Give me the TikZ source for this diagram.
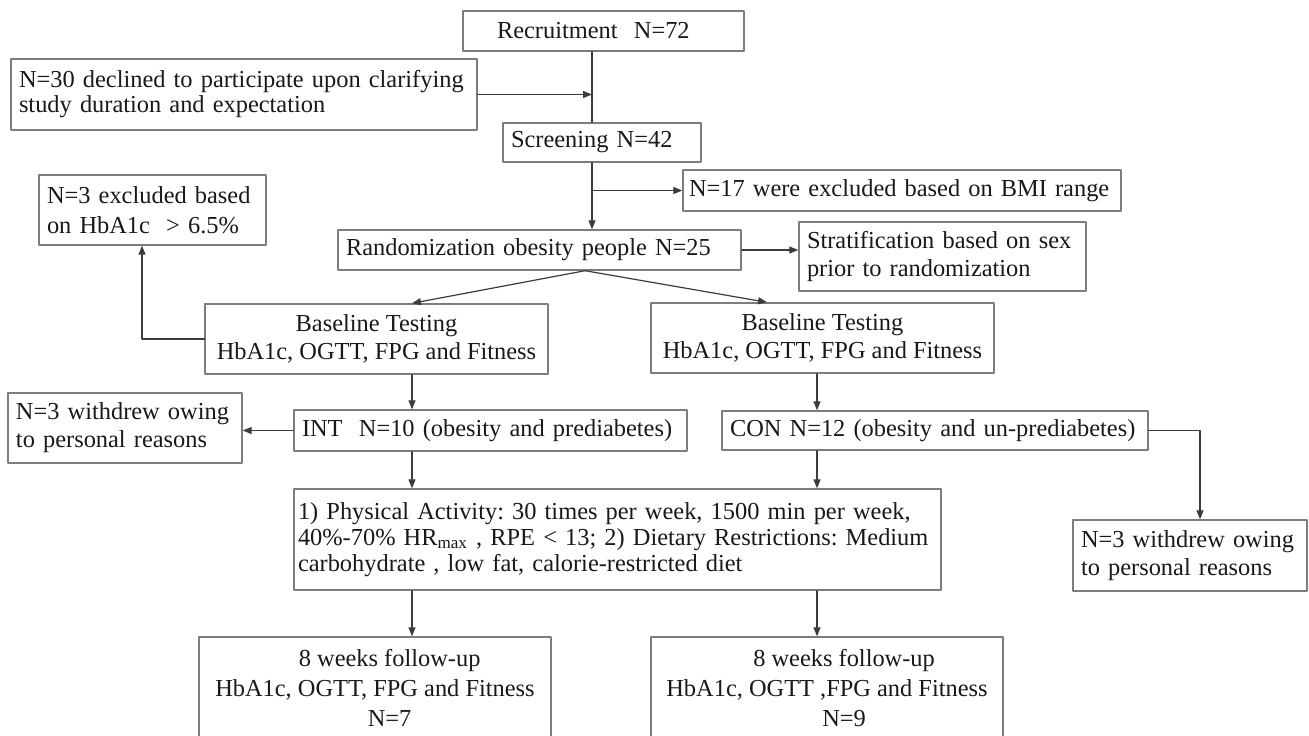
\documentclass[tikz,border=0pt]{standalone}
\usepackage{fontspec}
\setmainfont{Liberation Serif}
\usepackage{tikz}
\usetikzlibrary{arrows.meta}
\definecolor{boxline}{RGB}{125,125,125}
\definecolor{linecol}{RGB}{60,60,60}
\definecolor{txtcol}{RGB}{25,25,25}

\begin{document}
\begin{tikzpicture}[line cap=round,line join=round,>={Triangle[length=4.5pt,width=3.5pt]},x=0.5pt,y=-0.5pt,
  box/.style={draw=boxline,line width=0.7pt,inner ysep=0pt,inner xsep=4pt,align=left,text=txtcol,font=\fontsize{12.2}{14}\selectfont\frenchspacing},
  cbox/.style={box,align=center,inner xsep=0pt},
  conn/.style={draw=linecol,line width=0.6pt}]
\useasboundingbox (0,0) rectangle (1309,735);
\clip (0,0) rectangle (1309,735);
\fill[white] (0,0) rectangle (1309,735);
\node[box,inner xsep=17pt,text width=106.5pt,minimum height=20pt] (rec) at (603.5,31) {Recruitment~ N=72};
\node[box,text width=225pt,minimum height=35.5pt,font=\fontsize{12.2}{12.5}\selectfont\frenchspacing] (decl) at (244,94.5) {N=30 declined to participate upon clarifying\\study duration and expectation};
\node[box,text width=91pt,minimum height=19.5pt] (scr) at (602,142.5) {Screening N=42};
\node[box,inner xsep=3pt,text width=213pt,minimum height=20.5pt] (bmi) at (902,190.5) {N=17 were excluded based on BMI range};
\node[box,text width=105.5pt,minimum height=35pt,font=\fontsize{12.2}{15}\selectfont\frenchspacing] (excl) at (152.5,210) {N=3 excluded based\\on HbA1c~ > 6.5\%};
\node[box,text width=193.5pt,minimum height=20pt] (rand) at (539.5,250) {Randomization obesity people N=25};
\node[box,text width=135.5pt,minimum height=34.5pt] (strat) at (942.5,256.5) {Stratification based on sex\\prior to randomization};
\node[cbox,minimum width=171.5pt,minimum height=35pt,font=\fontsize{12.2}{14.25}\selectfont\frenchspacing] (baseL) at (376.5,339) {Baseline Testing\\HbA1c, OGTT, FPG and Fitness};
\node[cbox,minimum width=171.5pt,minimum height=35pt,font=\fontsize{12.2}{14.25}\selectfont\frenchspacing] (baseR) at (822.5,338) {Baseline Testing\\HbA1c, OGTT, FPG and Fitness};
\node[box,text width=188.5pt,minimum height=20.5pt] (int) at (490.5,430.5) {INT~ N=10 (obesity and prediabetes)};
\node[box,text width=109pt,minimum height=35pt] (wdL) at (125,428) {N=3 withdrew owing\\to personal reasons};
\node[box,text width=205pt,minimum height=19.5pt] (con) at (935,430.5) {CON N=12 (obesity and un-prediabetes)};
\node[box,inner xsep=2pt,text width=319.5pt,minimum height=50.5pt,font=\fontsize{12.2}{13}\selectfont\frenchspacing] (phys) at (617.5,539.5) {1) Physical Activity: 30 times per week, 1500 min per week,\\40\%-70\% HR\textsubscript{max} , RPE < 13; 2) Dietary Restrictions: Medium\\carbohydrate , low fat, calorie-restricted diet};
\node[box,text width=109pt,minimum height=35.5pt] (wdR) at (1190,555.5) {N=3 withdrew owing\\to personal reasons};
\node[cbox,minimum width=176pt,minimum height=51pt,font=\fontsize{12.2}{15}\selectfont\frenchspacing] (fuL) at (375,688) {\hspace*{1.2em}8 weeks follow-up\\HbA1c, OGTT, FPG and Fitness\\\hspace*{1.2em}N=7};
\node[cbox,minimum width=176pt,minimum height=51pt,font=\fontsize{12.2}{15}\selectfont\frenchspacing] (fuR) at (827,688) {\hspace*{1.4em}8 weeks follow-up\\HbA1c, OGTT ,FPG and Fitness\\\hspace*{1.4em}N=9};
\coordinate (mx) at (592,0);
\coordinate (sx) at (585,0);
\coordinate (lx) at (412,0);
\coordinate (rx) at (817,0);
\coordinate (bx) at (767,0);
\coordinate (ex) at (142,0);
\coordinate (wx) at (1200,0);
\draw[conn] (rec.south -| mx) -- (scr.north -| mx);
\draw[conn,->] (decl.east) -- (decl.east -| mx);
\draw[conn,->] (scr.south -| mx) -- (rand.north -| mx);
\draw[conn,->] (bmi.west -| mx) -- (bmi.west);
\draw[conn,->] (rand.east) -- (rand.east -| strat.west);
\draw[conn,->] (rand.south -| sx) -- (baseL.north -| lx);
\draw[conn,->] (rand.south -| sx) -- (baseR.north -| bx);
\draw[conn,->] (baseL.west) -| (excl.south -| ex);
\draw[conn,->] (baseL.south -| lx) -- (int.north -| lx);
\draw[conn,->] (int.west) -- (int.west -| wdL.east);
\draw[conn,->] (int.south -| lx) -- (phys.north -| lx);
\draw[conn,->] (phys.south -| lx) -- (fuL.north -| lx);
\draw[conn,->] (baseR.south -| rx) -- (con.north -| rx);
\draw[conn,->] (con.south -| rx) -- (phys.north -| rx);
\draw[conn,->] (phys.south -| rx) -- (fuR.north -| rx);
\draw[conn,->] (con.east) -| (wdR.north -| wx);
\end{tikzpicture}
\end{document}
